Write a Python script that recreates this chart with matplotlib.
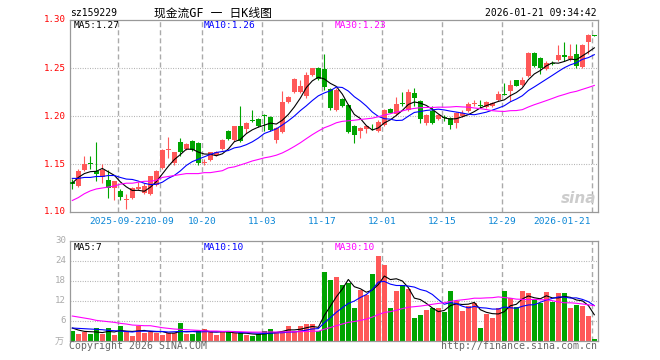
import matplotlib
matplotlib.use('Agg')
import matplotlib.pyplot as plt
import numpy as np
import pandas as pd

# ---------------- data ----------------
dates = ['2025-09-10', '2025-09-11', '2025-09-12', '2025-09-15', '2025-09-16', '2025-09-17', '2025-09-18', '2025-09-19',
         '2025-09-22', '2025-09-23', '2025-09-24', '2025-09-25', '2025-09-26', '2025-09-29', '2025-09-30',
         '2025-10-09', '2025-10-10', '2025-10-13', '2025-10-14', '2025-10-15', '2025-10-16', '2025-10-17',
         '2025-10-20', '2025-10-21', '2025-10-22', '2025-10-23', '2025-10-24', '2025-10-27', '2025-10-28',
         '2025-10-29', '2025-10-30', '2025-10-31',
         '2025-11-03', '2025-11-04', '2025-11-05', '2025-11-06', '2025-11-07', '2025-11-10', '2025-11-11',
         '2025-11-12', '2025-11-13', '2025-11-14', '2025-11-17', '2025-11-18', '2025-11-19', '2025-11-20',
         '2025-11-21', '2025-11-24', '2025-11-25', '2025-11-26', '2025-11-27', '2025-11-28',
         '2025-12-01', '2025-12-02', '2025-12-03', '2025-12-04', '2025-12-05', '2025-12-08', '2025-12-09',
         '2025-12-10', '2025-12-11', '2025-12-12', '2025-12-15', '2025-12-16', '2025-12-17', '2025-12-18',
         '2025-12-19', '2025-12-22', '2025-12-23', '2025-12-24', '2025-12-25', '2025-12-26', '2025-12-29',
         '2025-12-30', '2025-12-31',
         '2026-01-05', '2026-01-06', '2026-01-07', '2026-01-08', '2026-01-09', '2026-01-12', '2026-01-13',
         '2026-01-14', '2026-01-15', '2026-01-16', '2026-01-19', '2026-01-20', '2026-01-21']

open_ = [1.131, 1.127, 1.144, 1.151, 1.143, 1.136, 1.133, 1.125, 1.122, 1.113,
         1.115, 1.124, 1.120, 1.119, 1.128, 1.146, 1.165, 1.151, 1.173, 1.166,
         1.174, 1.172, 1.151, 1.154, 1.159, 1.166, 1.184, 1.175, 1.190, 1.186,
         1.196, 1.197, 1.201, 1.199, 1.175, 1.183, 1.215, 1.225, 1.225, 1.221,
         1.243, 1.250, 1.249, 1.228, 1.206, 1.218, 1.211, 1.190, 1.184, 1.186,
         1.188, 1.184, 1.191, 1.207, 1.202, 1.214, 1.206, 1.224, 1.216, 1.193,
         1.205, 1.197, 1.199, 1.198, 1.193, 1.200, 1.205, 1.212, 1.211, 1.209,
         1.210, 1.217, 1.223, 1.226, 1.237, 1.232, 1.242, 1.266, 1.260, 1.249,
         1.255, 1.258, 1.264, 1.259, 1.265, 1.251, 1.277, 1.284]
high = [1.134, 1.145, 1.158, 1.158, 1.173, 1.150, 1.144, 1.132, 1.124, 1.119,
        1.126, 1.131, 1.130, 1.138, 1.144, 1.166, 1.178, 1.163, 1.177, 1.172,
        1.175, 1.173, 1.155, 1.163, 1.164, 1.176, 1.185, 1.190, 1.210, 1.194,
        1.206, 1.198, 1.202, 1.200, 1.189, 1.226, 1.221, 1.240, 1.237, 1.246,
        1.250, 1.251, 1.265, 1.229, 1.229, 1.219, 1.212, 1.191, 1.189, 1.191,
        1.192, 1.196, 1.207, 1.208, 1.220, 1.225, 1.228, 1.229, 1.217, 1.202,
        1.210, 1.202, 1.201, 1.199, 1.204, 1.206, 1.215, 1.217, 1.217, 1.216,
        1.215, 1.226, 1.234, 1.237, 1.238, 1.241, 1.267, 1.267, 1.261, 1.257,
        1.257, 1.274, 1.277, 1.275, 1.275, 1.275, 1.285, 1.284]
low = [1.124, 1.126, 1.143, 1.145, 1.132, 1.130, 1.115, 1.112, 1.113, 1.103,
       1.114, 1.123, 1.119, 1.118, 1.127, 1.145, 1.156, 1.149, 1.158, 1.165,
       1.164, 1.149, 1.149, 1.153, 1.158, 1.165, 1.175, 1.174, 1.173, 1.182,
       1.194, 1.189, 1.184, 1.184, 1.172, 1.182, 1.214, 1.224, 1.224, 1.219,
       1.242, 1.237, 1.227, 1.206, 1.205, 1.209, 1.182, 1.172, 1.177, 1.182,
       1.185, 1.183, 1.190, 1.203, 1.201, 1.210, 1.205, 1.210, 1.193, 1.191,
       1.192, 1.196, 1.195, 1.186, 1.188, 1.199, 1.204, 1.210, 1.208, 1.208,
       1.209, 1.216, 1.222, 1.216, 1.231, 1.231, 1.241, 1.251, 1.244, 1.248,
       1.253, 1.257, 1.257, 1.257, 1.250, 1.250, 1.265, 1.283]
close = [1.129, 1.143, 1.150, 1.150, 1.140, 1.144, 1.125, 1.132, 1.116, 1.114,
         1.125, 1.126, 1.127, 1.137, 1.143, 1.165, 1.166, 1.162, 1.163, 1.171,
         1.165, 1.151, 1.152, 1.162, 1.163, 1.175, 1.176, 1.190, 1.174, 1.193,
         1.195, 1.190, 1.200, 1.185, 1.188, 1.215, 1.220, 1.239, 1.231, 1.243,
         1.250, 1.239, 1.230, 1.208, 1.227, 1.210, 1.183, 1.180, 1.187, 1.190,
         1.187, 1.194, 1.206, 1.203, 1.213, 1.213, 1.225, 1.219, 1.197, 1.201,
         1.193, 1.201, 1.198, 1.191, 1.203, 1.203, 1.212, 1.214, 1.210, 1.215,
         1.214, 1.223, 1.222, 1.232, 1.231, 1.238, 1.266, 1.252, 1.250, 1.255,
         1.254, 1.264, 1.261, 1.262, 1.252, 1.274, 1.284, 1.283]
# volume in 万
volume = [2.9, 2.0, 2.5, 2.0, 3.7, 2.0, 3.7, 1.7, 4.3, 2.7,
          1.5, 4.5, 2.4, 2.7, 2.4, 1.7, 2.2, 2.4, 5.2, 2.0,
          2.0, 3.0, 3.4, 2.8, 1.8, 2.5, 2.6, 2.2, 2.2, 1.7,
          1.4, 2.0, 2.8, 3.4, 2.7, 3.0, 4.3, 2.8, 4.4, 4.9,
          5.0, 2.9, 20.7, 18.2, 19.0, 16.7, 17.2, 9.9, 15.2, 13.7,
          20.0, 25.4, 22.7, 9.9, 14.9, 16.7, 15.5, 6.9, 7.7, 9.2,
          9.9, 9.9, 8.7, 14.9, 11.9, 8.9, 10.4, 11.4, 3.9, 8.0,
          6.9, 9.9, 14.9, 12.7, 10.2, 14.9, 14.4, 12.2, 11.2, 14.7,
          11.7, 14.4, 14.4, 9.9, 10.7, 10.4, 7.5, 0.4]

# moving-average values before a full window is available
ma5_head = [1.130, 1.136, 1.140, 1.142]
ma10_head = [1.135, 1.135, 1.136, 1.136, 1.137, 1.137, 1.138, 1.138, 1.136]
ma30_head = [1.112, 1.115, 1.119, 1.122, 1.124, 1.125, 1.126, 1.127, 1.129, 1.130,
             1.130, 1.131, 1.132, 1.132, 1.133, 1.136, 1.137, 1.138, 1.139, 1.140,
             1.140, 1.140, 1.141, 1.141, 1.142, 1.143, 1.146, 1.147, 1.149]
vma5_head = [3.8, 3.2, 2.8, 2.7]
vma10_head = [3.8, 3.7, 3.6, 3.5, 3.4, 3.3, 3.1, 3.0, 2.9]
vma30_head = [7.4, 7.1, 6.8, 6.5, 6.1, 5.9, 5.7, 5.5, 5.2, 5.0,
              4.7, 4.6, 4.5, 4.5, 4.2, 3.9, 3.7, 3.5, 3.4, 3.3,
              3.2, 3.1, 3.0, 2.9, 2.9, 2.8, 2.8, 2.7, 2.7]

tick_dates = ['2025-09-22', '2025-10-09', '2025-10-20', '2025-11-03', '2025-11-17',
              '2025-12-01', '2025-12-15', '2025-12-29', '2026-01-21']
tick_labels = ['2025-09-22', '10-09', '10-20', '11-03', '11-17', '12-01', '12-15', '12-29', '2026-01-21']
price_ticks = [1.10, 1.15, 1.20, 1.25, 1.30]
vol_ticks = [6, 12, 18, 24, 30]

code = 'sz159229'
title = '现金流GF 一 日K线图'
timestamp = '2026-01-21 09:34:42'

# ---------------- helpers ----------------
def ma(values, n, head):
    s = pd.Series(values, dtype=float).rolling(n).mean().to_numpy()
    s[:len(head)] = head
    return s

RED = '#ff5858'
GREEN = '#00a400'
GRID = '#aaaaaa'
MONO = 'DejaVu Sans Mono'
W, H = 660, 360

o = np.array(open_); c = np.array(close); h = np.array(high); l = np.array(low)
v = np.array(volume)
n = len(dates)
x = np.arange(n)
up = c >= o
colors = np.where(up, RED, GREEN)

fig = plt.figure(figsize=(6.6, 3.6), dpi=100)
fig.patch.set_facecolor('white')

def T(px, py, s, **kw):
    fig.text(px / W, 1 - py / H, s, **kw)

ax_l, ax_r = 69.5, 597.5
ax = fig.add_axes([ax_l / W, 1 - 212 / H, (ax_r - ax_l) / W, (212 - 20) / H])
axv = fig.add_axes([ax_l / W, 1 - 340.7 / H, (ax_r - ax_l) / W, (340.7 - 240.7) / H])

xlim = (-0.47, n - 0.47)
tick_idx = [dates.index(d) for d in tick_dates]

for a, ymin, ymax, hticks in [(ax, 1.10, 1.30, [1.15, 1.20, 1.25]), (axv, 0, 30, [6, 12, 18, 24])]:
    a.set_xlim(*xlim)
    a.set_ylim(ymin, ymax)
    a.set_xticks([]); a.set_yticks([])
    for s in a.spines.values():
        s.set_color('#999999'); s.set_linewidth(0.9)
    for yv in hticks:
        a.axhline(yv, color=GRID, lw=0.8, dashes=(0.8, 1.4), zorder=0)
    for ti in tick_idx:
        a.axvline(ti - 0.33, color=GRID, lw=1.0, dashes=(3.6, 2.2), zorder=0)

# candles
bw = 0.78
ax.vlines(x, l, h, colors=colors, lw=0.8, zorder=2)
body_bottom = np.minimum(o, c)
body_h = np.maximum(np.abs(c - o), 0.0009)
ax.bar(x, body_h, bottom=body_bottom, width=bw, color=colors, linewidth=0, zorder=3)

ax.plot(x, ma(close, 5, ma5_head), color='black', lw=0.8, zorder=4)
ax.plot(x, ma(close, 10, ma10_head), color='#0000ff', lw=0.8, zorder=4)
ax.plot(x, ma(close, 30, ma30_head), color='#ff00ff', lw=0.8, zorder=4)

# volume
axv.bar(x, v, width=bw, color=colors, linewidth=0, zorder=2)
axv.plot(x, ma(volume, 5, vma5_head), color='black', lw=0.8, zorder=4)
axv.plot(x, ma(volume, 10, vma10_head), color='#0000ff', lw=0.8, zorder=4)
axv.plot(x, ma(volume, 30, vma30_head), color='#ff00ff', lw=0.8, zorder=4)

# price labels
for p in price_ticks:
    py = 20 + (1.30 - p) / 0.05 * 48
    T(66, py, f'{p:.2f}', ha='right', va='center', color='#ff0000', fontsize=6.6, family=MONO)
for vt in vol_ticks:
    py = 340.7 - vt / 30 * 100
    T(66, py, f'{vt}', ha='right', va='center', color='#aaaaaa', fontsize=6.6, family=MONO)
T(64, 342, '万', ha='right', va='center', color='#aaaaaa', fontsize=6.5, family=['Noto Sans CJK SC'])

# date labels
for ti, lab in zip(tick_idx, tick_labels):
    xp = ax_l + (ti - 0.33 - xlim[0]) / (xlim[1] - xlim[0]) * (ax_r - ax_l)
    if ti == n - 1:
        T(xp - 2, 222, lab, ha='right', va='center', color='#0a86d6', fontsize=6.8, family=MONO)
    else:
        T(xp, 222, lab, ha='center', va='center', color='#0a86d6', fontsize=6.8, family=MONO)

# MA legends
ma5_last = ma(close, 5, ma5_head)[-1]
ma10_last = ma(close, 10, ma10_head)[-1]
ma30_last = ma(close, 30, ma30_head)[-1]
T(74, 26, f'MA5:{ma5_last:.2f}', ha='left', va='center', color='black', fontsize=6.8, family=MONO)
T(204, 26, f'MA10:{ma10_last:.2f}', ha='left', va='center', color='#0000ff', fontsize=6.8, family=MONO)
T(335, 26, f'MA30:{ma30_last:.2f}', ha='left', va='center', color='#ff00ff', fontsize=6.8, family=MONO)
vma5_last = ma(volume, 5, vma5_head)[-1]
vma10_last = ma(volume, 10, vma10_head)[-1]
vma30_last = ma(volume, 30, vma30_head)[-1]
T(74, 247, f'MA5:{int(vma5_last)}', ha='left', va='center', color='black', fontsize=6.8, family=MONO)
T(204, 247, f'MA10:{int(vma10_last)}', ha='left', va='center', color='#0000ff', fontsize=6.8, family=MONO)
T(335, 247, f'MA30:{int(vma30_last)}', ha='left', va='center', color='#ff00ff', fontsize=6.8, family=MONO)

# header
T(70, 13.5, code, ha='left', va='center', color='black', fontsize=7, family=MONO)
T(213, 13, title, ha='center', va='center', color='black', fontsize=8.5, family=[MONO, 'Noto Sans CJK SC'])
T(597, 13.5, timestamp, ha='right', va='center', color='black', fontsize=7, family=MONO)

# footer
T(69, 346, 'Copyright 2026 SINA.COM', ha='left', va='center', color='#666666', fontsize=7.1, family=MONO)
T(597, 346, 'http://finance.sina.com.cn', ha='right', va='center', color='#666666', fontsize=7.1, family=MONO)

# watermark
T(596, 198, 'sina', ha='right', va='center', color='#cccccc', fontsize=11, fontweight='bold', style='italic')

fig.savefig('out.png', dpi=100)
